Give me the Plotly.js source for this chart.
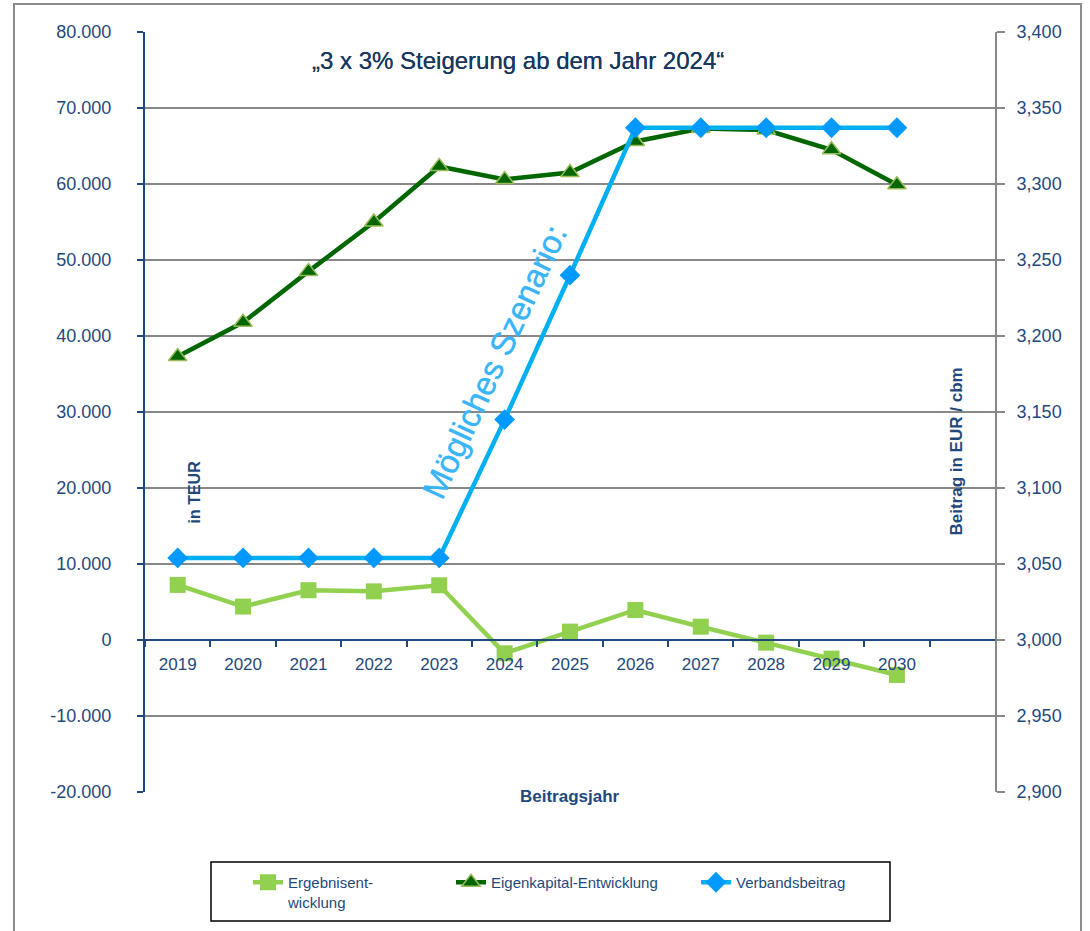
<!DOCTYPE html>
<html>
<head>
<meta charset="utf-8">
<script src="https://cdn.plot.ly/plotly-3.0.1.min.js"></script>
<style>html,body{margin:0;padding:0;background:#fff;}#chart{width:1090px;height:931px;}</style>
</head>
<body>
<div id="chart"></div>
<script>
const years = ['2019','2020','2021','2022','2023','2024','2025','2026','2027','2028','2029','2030'];
const ergebnis = [7250, 4400, 6550, 6400, 7200, -1750, 1100, 3950, 1750, -350, -2450, -4600];
const eigenkapital = [37300, 41800, 48500, 55000, 62300, 60600, 61500, 65600, 67300, 67100, 64500, 59900];
const verbandsbeitrag = [3054, 3054, 3054, 3054, 3054, 3145, 3240, 3337, 3337, 3337, 3337, 3337];
const leftTicks = [-20000, -10000, 0, 10000, 20000, 30000, 40000, 50000, 60000, 70000, 80000];
const leftTickText = ['-20.000', '-10.000', '0', '10.000', '20.000', '30.000', '40.000', '50.000', '60.000', '70.000', '80.000'];
const rightTicks = [2900, 2950, 3000, 3050, 3100, 3150, 3200, 3250, 3300, 3350, 3400];
const rightTickText = ['2,900', '2,950', '3,000', '3,050', '3,100', '3,150', '3,200', '3,250', '3,300', '3,350', '3,400'];
const seriesNames = ['Ergebnisent-<br>wicklung', 'Eigenkapital-Entwicklung', 'Verbandsbeitrag'];

const FONT = 'Liberation Sans, Arial, sans-serif';
const NAVY = '#1F497D';
const GRID = '#888888';

const traces = [
  {
    x: years, y: ergebnis, name: seriesNames[0], type: 'scatter', mode: 'lines+markers',
    line: {color: '#92D050', width: 4.5},
    marker: {symbol: 'square', size: 16, color: '#92D050'},
    yaxis: 'y', legend: 'legend'
  },
  {
    x: years, y: eigenkapital, name: seriesNames[1], type: 'scatter', mode: 'lines+markers',
    line: {color: '#006600', width: 4.5},
    marker: {symbol: 'triangle-up', size: 16, color: '#006600', line: {color: '#9BBB59', width: 1.5}},
    yaxis: 'y', legend: 'legend3'
  },
  {
    x: years, y: verbandsbeitrag, name: seriesNames[2], type: 'scatter', mode: 'lines+markers',
    line: {color: '#00B0F0', width: 4.5},
    marker: {symbol: 'diamond', size: 16, color: '#0099FF'},
    yaxis: 'y2', legend: 'legend2'
  }
];

const legendCommon = {
  orientation: 'h', xanchor: 'left', yanchor: 'top',
  borderwidth: 0, bgcolor: 'rgba(0,0,0,0)',
  font: {family: FONT, size: 15, color: NAVY},
  valign: 'top', itemclick: false
};

const layout = {
  width: 1090, height: 931,
  margin: {l: 145, r: 95, t: 32, b: 139, autoexpand: false},
  paper_bgcolor: '#ffffff', plot_bgcolor: '#ffffff',
  font: {family: FONT, color: NAVY},
  showlegend: true,
  hovermode: false,
  xaxis: {
    type: 'category', range: [-0.5, 12.5],
    anchor: 'free', position: 0.2,
    showline: true, linecolor: NAVY, linewidth: 2,
    ticks: 'outside', tickson: 'boundaries', ticklen: 6, tickwidth: 2, tickcolor: NAVY,
    showgrid: false, zeroline: false,
    tickfont: {family: FONT, size: 17, color: NAVY},
    ticklabelstandoff: 9
  },
  yaxis: {
    range: [-20000, 80000],
    tickvals: leftTicks, ticktext: leftTickText,
    showgrid: true, gridcolor: GRID, gridwidth: 1.8,
    zeroline: false,
    showline: true, linecolor: NAVY, linewidth: 2,
    ticks: 'outside', ticklen: 6, tickwidth: 2, tickcolor: NAVY,
    tickfont: {family: FONT, size: 18, color: NAVY},
    ticklabelstandoff: 22
  },
  yaxis2: {
    range: [2900, 3400], overlaying: 'y', side: 'right',
    tickvals: rightTicks, ticktext: rightTickText,
    showgrid: false, zeroline: false,
    showline: true, linecolor: GRID, linewidth: 2,
    ticks: 'outside', ticklen: 8, tickwidth: 2, tickcolor: GRID,
    tickfont: {family: FONT, size: 18, color: NAVY},
    ticklabelstandoff: 8
  },
  legend: Object.assign({}, legendCommon, {x: (248 - 145) / 850, y: (792 - 866) / 760}),
  legend3: Object.assign({}, legendCommon, {x: (451 - 145) / 850, y: (792 - 866) / 760}),
  legend2: Object.assign({}, legendCommon, {x: (696 - 145) / 850, y: (792 - 866) / 760}),
  shapes: [
    {type: 'rect', xref: 'paper', yref: 'paper', x0: -0.1541, x1: 1.1012, y0: -0.2, y1: 1.0368,
     line: {color: '#8c8c8c', width: 2}, layer: 'below'},
    {type: 'rect', xref: 'paper', yref: 'paper', x0: 66 / 850, x1: 745 / 850, y0: (792 - 921) / 760, y1: (792 - 862) / 760,
     line: {color: '#000000', width: 1.5}, layer: 'below'}
  ],
  annotations: [
    {text: '„3 x 3% Steigerung ab dem Jahr 2024“', xref: 'paper', yref: 'paper', x: (518 - 145) / 850, y: (792 - 45) / 760,
     showarrow: false, font: {family: FONT, size: 24, color: '#17375E', shadow: '0px 0px 0.5px #17375E'}},
    {text: 'Mögliches Szenario:', xref: 'paper', yref: 'paper', x: (494 - 145) / 850, y: (792 - 362) / 760,
     textangle: -65, showarrow: false, font: {family: FONT, size: 33, color: '#3CB4F8', shadow: '0px 0px 0.8px #3CB4F8'}},
    {text: '<b>in TEUR</b>', xref: 'paper', yref: 'paper', x: (183 - 145) / 850, y: (792 - 492) / 760,
     textangle: -90, showarrow: false, font: {family: FONT, size: 16, color: NAVY}},
    {text: '<b>Beitrag in EUR / cbm</b>', xref: 'paper', yref: 'paper', x: (968 - 145) / 850, y: (792 - 452) / 760,
     textangle: -90, showarrow: false, font: {family: FONT, size: 17, color: NAVY}},
    {text: '<b>Beitragsjahr</b>', xref: 'paper', yref: 'paper', x: (570 - 145) / 850, y: (792 - 808) / 760,
     showarrow: false, font: {family: FONT, size: 17, color: NAVY}}
  ]
};

Plotly.newPlot('chart', traces, layout, {displayModeBar: false, staticPlot: true});
</script>
</body>
</html>
